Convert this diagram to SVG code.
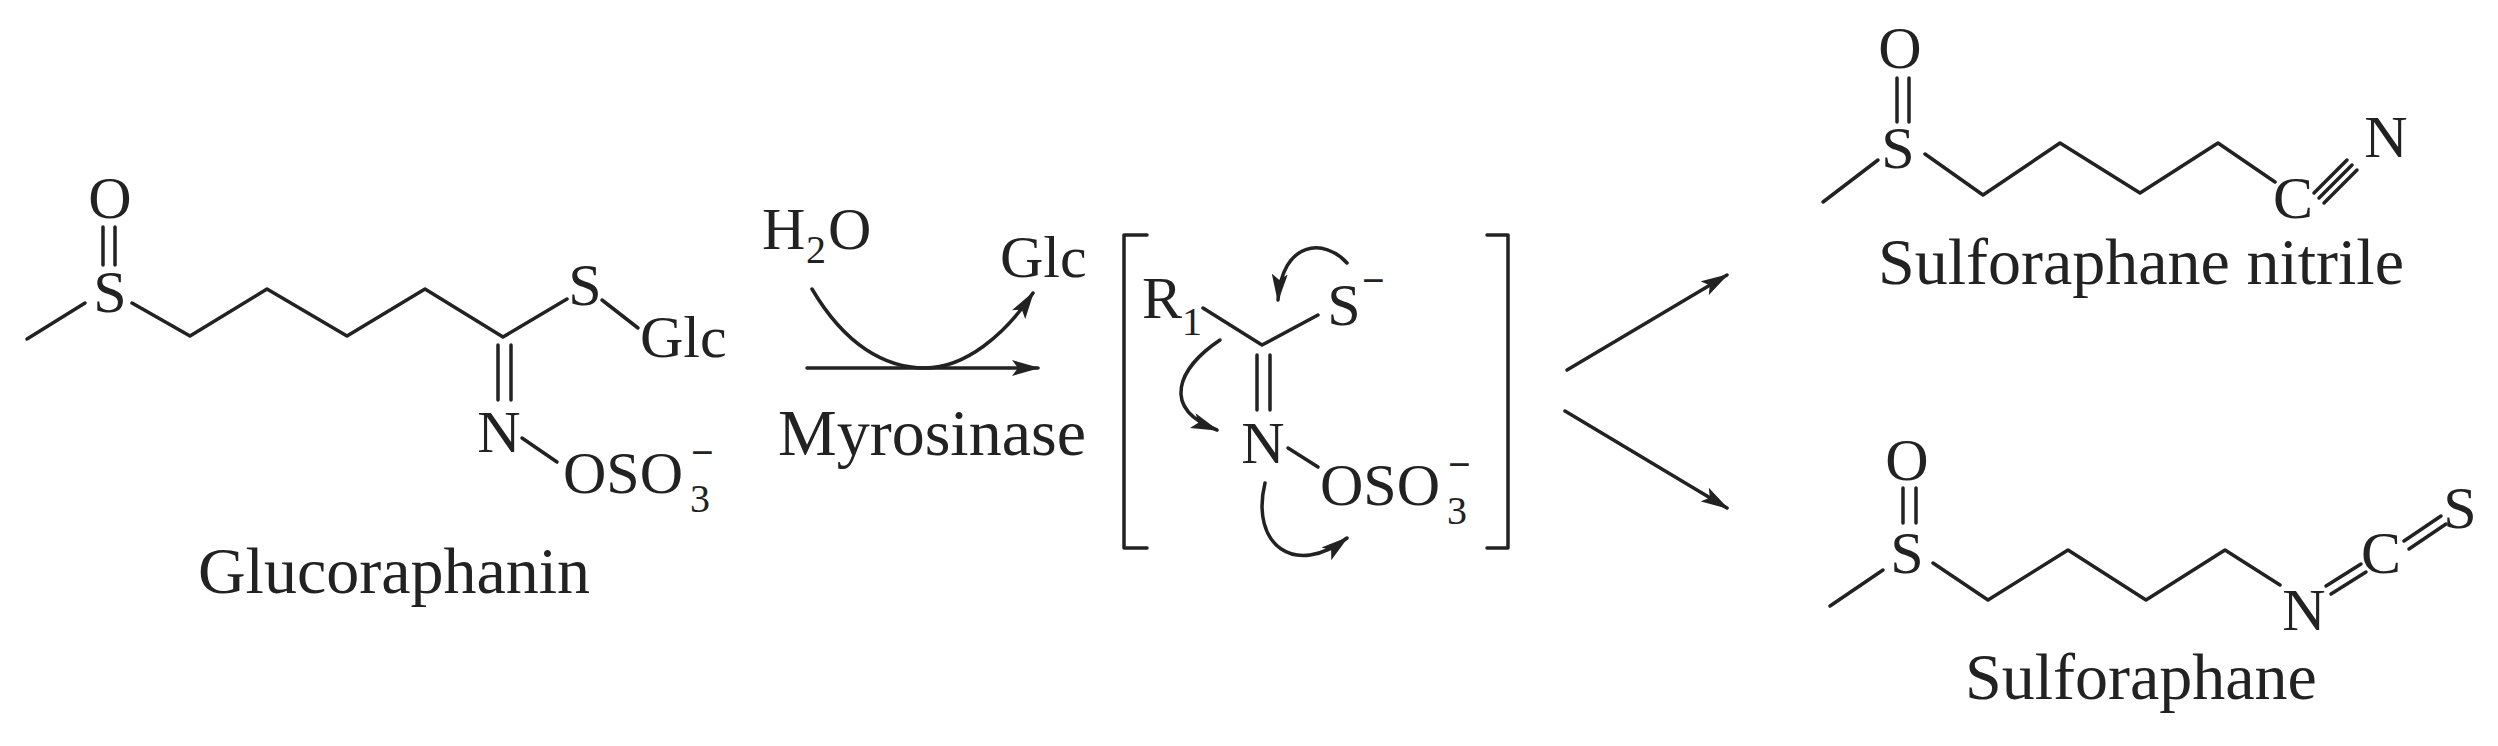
<svg xmlns="http://www.w3.org/2000/svg" width="2498" height="746" viewBox="0 0 2498 746">
<style>
text{font-family:"Liberation Serif","Times New Roman",serif;fill:#222}
.a{font-size:60px;text-anchor:middle}
.l{font-size:66px}
.s{font-size:40px}
.m{font-size:40px;font-weight:bold}
.b{stroke:#222;stroke-width:3.5;fill:none;stroke-linecap:round;stroke-linejoin:round}
</style>
<defs>
<marker id="ah" viewBox="0 0 28 16" refX="26" refY="8" markerWidth="28" markerHeight="16" markerUnits="userSpaceOnUse" orient="auto"><path d="M0,0 L28,8 L0,16 L6,8 z" fill="#222"/></marker>
</defs>
<rect width="2498" height="746" fill="#fff"/>
<g id="glucoraphanin">
<path class="b" d="M27,339 L85,303"/>
<path class="b" d="M103,227 L103,265 M115,227 L115,265"/>
<path class="b" d="M132,303 L190,336 L267,289 L347,336 L425,289 L503,337 L567,299"/>
<path class="b" d="M602,300 L638,328"/>
<path class="b" d="M498,345 L498,400 M511,345 L511,400"/>
<path class="b" d="M522,438 L557,462"/>
<text class="a" x="110" y="218">O</text>
<text class="a" x="110" y="312">S</text>
<text class="a" x="585" y="305">S</text>
<text x="640" y="357" style="font-size:60px">Glc</text>
<text class="a" x="499" y="452">N</text>
<text x="563" y="493" style="font-size:60px">OSO</text>
<text class="s" x="690" y="512">3</text>
<text class="m" x="691" y="466">−</text>
<text class="l" x="394" y="593" text-anchor="middle">Glucoraphanin</text>
</g>
<g id="reagents">
<text x="762" y="249" style="font-size:60px">H</text>
<text class="s" x="806" y="263">2</text>
<text x="828" y="249" style="font-size:60px">O</text>
<text x="1000" y="277" style="font-size:60px">Glc</text>
<text class="l" x="932" y="455" text-anchor="middle">Myrosinase</text>
</g>
<g id="intermediate">
<path class="b" d="M1147,235 L1124,235 L1124,548 L1147,548"/>
<path class="b" d="M1487,235 L1508,235 L1508,548 L1487,548"/>
<path class="b" d="M1203,308 L1262,345 L1318,315"/>
<path class="b" d="M1257,355 L1257,410 M1270,355 L1270,410"/>
<path class="b" d="M1288,448 L1318,467"/>
<text x="1142" y="318" style="font-size:60px">R</text>
<text class="s" x="1182" y="335">1</text>
<text class="a" x="1344" y="325">S</text>
<text class="m" x="1362" y="294">−</text>
<text class="a" x="1263" y="463">N</text>
<text x="1320" y="505" style="font-size:60px">OSO</text>
<text class="s" x="1447" y="524">3</text>
<text class="m" x="1448" y="478">−</text>
</g>
<g id="nitrile">
<path class="b" d="M1823,202 L1878,160"/>
<path class="b" d="M1897,78 L1897,122 M1909,78 L1909,122"/>
<path class="b" d="M1925,154 L1983,195 L2060,143 L2140,193 L2218,143 L2275,182"/>
<path class="b" d="M2314,193 L2347,160 M2319,198 L2352,165 M2324,203 L2357,170"/>
<text class="a" x="1900" y="68">O</text>
<text class="a" x="1898" y="168">S</text>
<text class="a" x="2293" y="218">C</text>
<text class="a" x="2386" y="157">N</text>
<text class="l" x="1878" y="284">Sulforaphane nitrile</text>
</g>
<g id="sulforaphane">
<path class="b" d="M1830,606 L1883,570"/>
<path class="b" d="M1903,488 L1903,523 M1916,488 L1916,523"/>
<path class="b" d="M1933,563 L1988,600 L2068,550 L2146,600 L2225,550 L2280,585"/>
<path class="b" d="M2326,586 L2361,564 M2331,594 L2366,572"/>
<path class="b" d="M2404,541 L2441,516 M2409,549 L2446,524"/>
<text class="a" x="1907" y="480">O</text>
<text class="a" x="1907" y="573">S</text>
<text class="a" x="2304" y="630">N</text>
<text class="a" x="2381" y="573">C</text>
<text class="a" x="2460" y="528">S</text>
<text class="l" x="1965" y="699">Sulforaphane</text>
</g>
<g id="connectors">
<path class="b" d="M807,368 L1038,368" marker-end="url(#ah)"/>
<path class="b" d="M812,289 C845,345 885,368 925,368 C965,368 1005,335 1033,293" marker-end="url(#ah)"/>
<path class="b" d="M1347,263 C1325,238 1282,240 1278,300" marker-end="url(#ah)"/>
<path class="b" d="M1220,340 C1178,368 1160,408 1217,430" marker-end="url(#ah)"/>
<path class="b" d="M1265,483 C1250,545 1295,578 1347,538" marker-end="url(#ah)"/>
<path class="b" d="M1567,370 L1727,275" marker-end="url(#ah)"/>
<path class="b" d="M1565,411 L1727,508" marker-end="url(#ah)"/>
</g>
</svg>
